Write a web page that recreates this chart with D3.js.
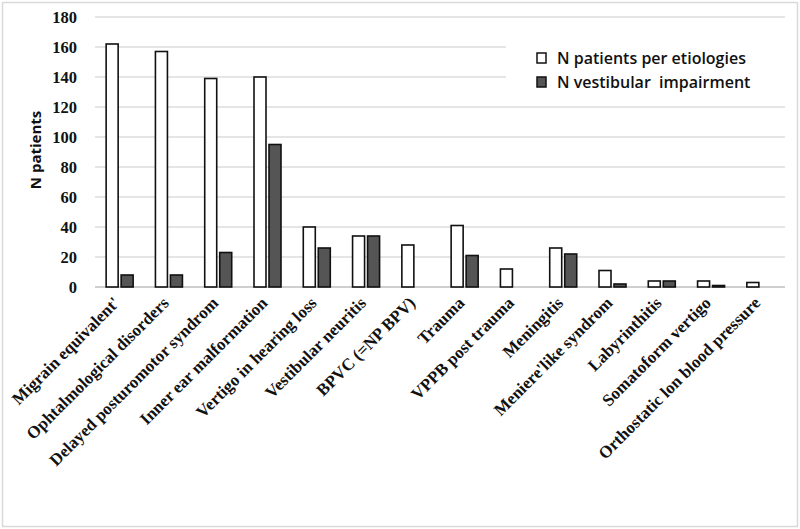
<!DOCTYPE html>
<html><head><meta charset="utf-8">
<script src="https://cdn.jsdelivr.net/npm/d3@7"></script>
<style>body{margin:0;background:#fff}svg{display:block}</style>
</head><body>
<svg id="chart" width="800" height="529"></svg>
<script>
const categories = ["Migrain equivalent'","Ophtalmological disorders","Delayed posturomotor syndrom","Inner ear malformation","Vertigo in hearing loss","Vestibular neuritis","BPVC (=NP BPV)","Trauma","VPPB post trauma","Meningitis","Meniere'like syndrom","Labyrinthitis","Somatoform vertigo","Orthostatic lon blood pressure"];
const patients = [162,157,139,140,40,34,28,41,12,26,11,4,4,3];
const impairment = [8,8,23,95,26,34,0,21,0,22,2,4,1,0];
const seriesNames = ["N patients per etiologies","N vestibular  impairment"];
const yTicks = [0,20,40,60,80,100,120,140,160,180];

const svg = d3.select("#chart");
svg.append("rect").attr("x",2.5).attr("y",2.5).attr("width",795).attr("height",524)
  .attr("fill","#fff").attr("stroke","#d9d9d9").attr("stroke-width",1.5);

const pL = 95, pR = 785, pT = 17, pB = 287;
const x = d3.scaleBand().domain(categories).range([pL,pR]);
const y = d3.scaleLinear().domain([0,180]).range([pB,pT]);

// grid
svg.append("g").selectAll("line").data(yTicks).join("line")
  .attr("x1",pL).attr("x2",pR).attr("y1",d=>y(d)).attr("y2",d=>y(d))
  .attr("stroke",d=>d===0?"#bfbfbf":"#dcdcdc").attr("stroke-width",1.5);

// y axis labels
const yAxis = d3.axisLeft(y).tickValues(yTicks).tickSize(0).tickPadding(0);
const ya = svg.append("g").attr("transform",`translate(77,0)`).call(yAxis);
ya.select(".domain").remove();
ya.selectAll("text").attr("font-family","Liberation Serif, Times New Roman, serif")
  .attr("font-weight","bold").attr("font-size",16.5).attr("fill","#111");

svg.append("text").attr("transform",`translate(41,150) rotate(-90)`)
  .attr("text-anchor","middle").attr("font-family","Open Sans, DejaVu Sans, sans-serif")
  .attr("font-weight","bold").attr("font-size",15).attr("fill","#111").text("N patients");

// bars
const bw = 12, gap = 3;
const g = svg.append("g");
g.selectAll("rect.p").data(categories).join("rect").attr("class","p")
  .attr("x",(d)=>x(d)+x.bandwidth()/2-bw-gap/2)
  .attr("y",(d,i)=>y(patients[i])).attr("width",bw)
  .attr("height",(d,i)=>y(0)-y(patients[i]))
  .attr("fill","#fff").attr("stroke","#111").attr("stroke-width",1.6);
g.selectAll("rect.v").data(categories).join("rect").attr("class","v")
  .attr("x",(d)=>x(d)+x.bandwidth()/2+gap/2)
  .attr("y",(d,i)=>y(impairment[i])).attr("width",bw)
  .attr("height",(d,i)=>y(0)-y(impairment[i]))
  .attr("fill","#555").attr("stroke","#111").attr("stroke-width",1.6)
  .attr("display",(d,i)=>impairment[i]>0?null:"none");

// x labels
svg.append("g").selectAll("text").data(categories).join("text")
  .attr("transform",d=>`translate(${x(d)+x.bandwidth()/2+1},${pB+17}) rotate(-45)`)
  .attr("text-anchor","end")
  .attr("font-family","Liberation Serif, Times New Roman, serif")
  .attr("font-weight","bold").attr("font-size",17).attr("fill","#111")
  .text(d=>d);

// legend
const lg = svg.append("g");
lg.append("rect").attr("x",506).attr("y",38).attr("width",279).attr("height",62).attr("fill","#fff");
const colors = ["#fff","#555"];
seriesNames.forEach((s,i)=>{
  const yy = 58 + i*24;
  lg.append("rect").attr("x",537).attr("y",yy-5).attr("width",9).attr("height",10)
    .attr("fill",colors[i]).attr("stroke","#111").attr("stroke-width",1.5);
  lg.append("text").attr("x",557).attr("y",yy+5.5)
    .attr("font-family","Open Sans, DejaVu Sans, sans-serif").attr("font-weight","600")
    .attr("font-size",16).attr("fill","#111").attr("xml:space","preserve").text(s);
});
</script>
</body></html>
